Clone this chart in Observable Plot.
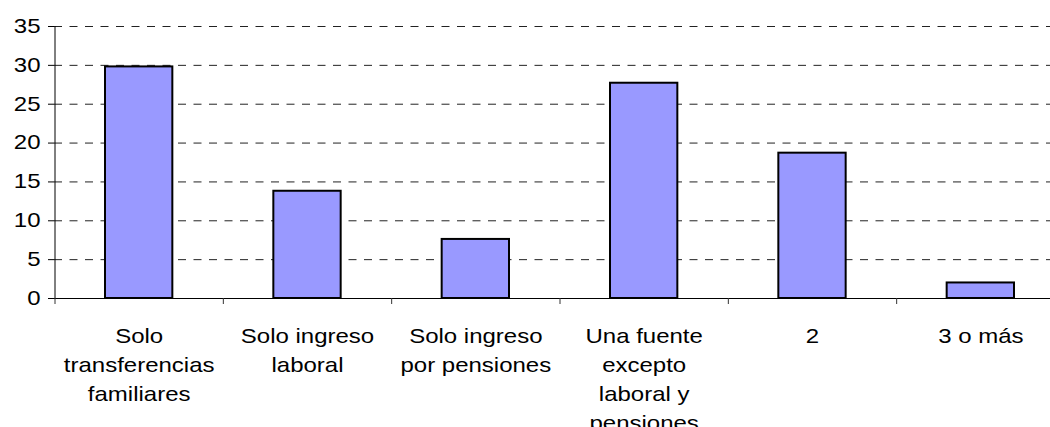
<!DOCTYPE html>
<html>
<head>
<meta charset="utf-8">
<script src="https://cdn.jsdelivr.net/npm/d3@7"></script>
<script src="https://cdn.jsdelivr.net/npm/@observablehq/plot@0.6"></script>
<style>
  html, body { margin: 0; padding: 0; background: #fff; overflow: hidden; }
</style>
</head>
<body>
<div id="chart"></div>
<script>
const categories = [
  "Solo\ntransferencias\nfamiliares",
  "Solo ingreso\nlaboral",
  "Solo ingreso\npor pensiones",
  "Una fuente\nexcepto\nlaboral y\npensiones",
  "2",
  "3 o más"
];
const values = [29.8, 13.8, 7.6, 27.7, 18.7, 2.0];
const yTicks = [0, 5, 10, 15, 20, 25, 30, 35];

const data = categories.map((c, i) => ({category: c, index: i, value: values[i]}));
const boundaries = d3.range(0, categories.length + 1);

const chart = Plot.plot({
  width: 1050,
  height: 427,
  marginTop: 26,
  marginBottom: 129,
  marginLeft: 54,
  marginRight: 0,
  style: {fontFamily: "'Liberation Sans', Arial, sans-serif", background: "#fff", color: "#000"},
  x: {domain: [0, categories.length], range: [54.5, 1064.5], label: null},
  y: {domain: [0, 35], label: null},
  marks: [
    Plot.gridY(yTicks.filter(t => t > 0), {stroke: "#222", strokeOpacity: 1, strokeWidth: 1, strokeDasharray: "8,7.5"}),
    Plot.rectY(data, {
      x1: d => d.index + 0.3,
      x2: d => d.index + 0.7,
      y: "value",
      fill: "#9999FF",
      stroke: "#000",
      strokeWidth: 2
    }),
    Plot.ruleY([0], {stroke: "#000", strokeWidth: 1}),
    Plot.ruleX([0], {stroke: "#000", strokeWidth: 1}),
    Plot.axisY({ticks: yTicks, tickSize: 6, tickPadding: 8, fontSize: 20, stroke: "#000", fill: "#000"}),
    Plot.axisX({ticks: boundaries, tickSize: 6, tickFormat: () => "", stroke: "#333"}),
    Plot.text(data, {
      x: d => d.index + 0.5,
      text: "category",
      frameAnchor: "bottom",
      lineAnchor: "top",
      dy: 24,
      lineHeight: 1.45,
      fontSize: 20,
      fill: "#000"
    })
  ]
});
// the reference's lettering is horizontally stretched; widen each label about its own anchor
chart.querySelectorAll("text").forEach(t => {
  const tr = t.getAttribute("transform") || "";
  t.setAttribute("transform", (tr + " scale(1.2,1)").trim());
});
document.getElementById("chart").appendChild(chart);
</script>
</body>
</html>
